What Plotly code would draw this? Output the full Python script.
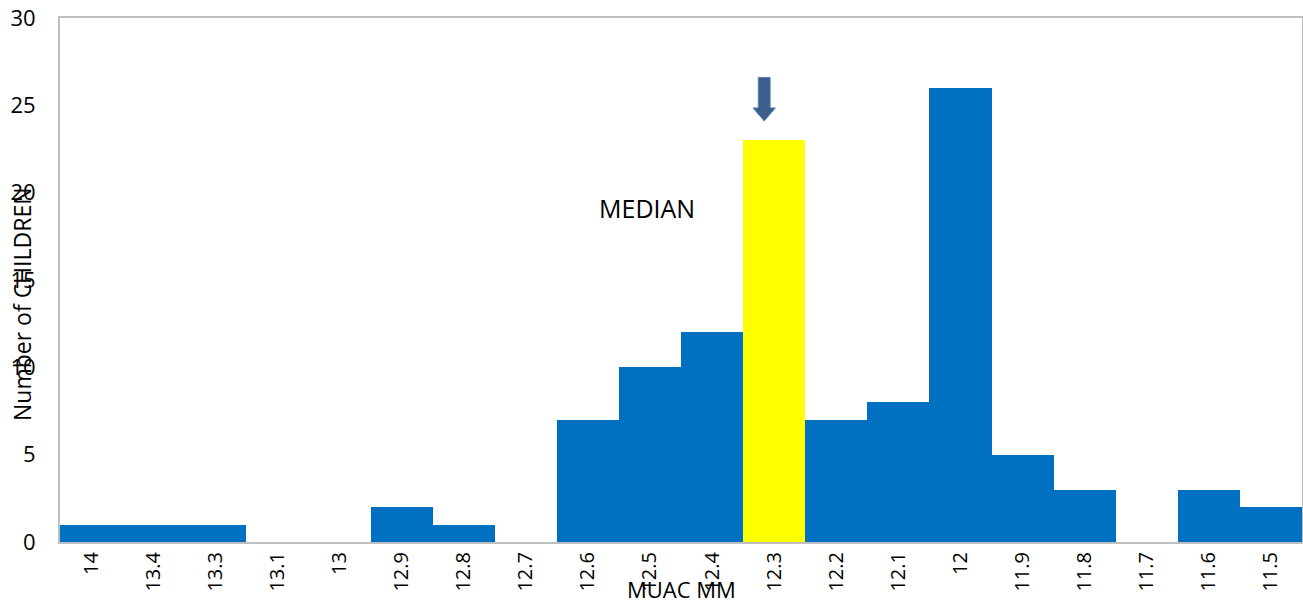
import plotly.graph_objects as go

# MUAC measurements (cm) and number of children in each class
muac = ["14", "13.4", "13.3", "13.1", "13", "12.9", "12.8", "12.7", "12.6", "12.5",
        "12.4", "12.3", "12.2", "12.1", "12", "11.9", "11.8", "11.7", "11.6", "11.5"]
children = [1, 1, 1, 0, 0, 2, 1, 0, 7, 10, 12, 23, 7, 8, 26, 5, 3, 0, 3, 2]
median_class = "12.3"

blue = "#0070C0"
yellow = "#FFFF00"
colors = [yellow if m == median_class else blue for m in muac]

fig = go.Figure(go.Bar(
    x=muac, y=children, marker=dict(color=colors, line=dict(width=0)),
))

mi = muac.index(median_class)
cx = mi - 0.16
# downward block arrow above the median bar
arrow = (f"M {cx-0.095},26.6 L {cx+0.095},26.6 L {cx+0.095},24.85 "
         f"L {cx+0.18},24.85 L {cx},24.1 L {cx-0.18},24.85 L {cx-0.095},24.85 Z")
fig.add_shape(type="path", path=arrow, xref="x", yref="y",
              fillcolor="#3B5E8C", line=dict(color="#5A7FB0", width=1))

fig.add_annotation(x=mi - 2.05, y=19.1, xref="x", yref="y", text="MEDIAN",
                   showarrow=False, font=dict(size=25, color="#000000"))

# axis titles sit close to the axes, over the tick labels
fig.add_annotation(x=0, y=0.5, xref="paper", yref="paper", xanchor="center",
                   yanchor="middle", xshift=-38, yshift=-25,
                   text="Number of CHILDREN", textangle=-90, showarrow=False,
                   font=dict(size=23, color="#000000"))
fig.add_annotation(x=0.5, y=0, xref="paper", yref="paper", xanchor="center",
                   yanchor="middle", yshift=-47,
                   text="MUAC MM", showarrow=False,
                   font=dict(size=22, color="#000000"))

font = "Open Sans, Liberation Sans, sans-serif"
fig.update_layout(
    width=1303, height=607,
    margin=dict(l=60, r=1, t=18, b=65),
    paper_bgcolor="white", plot_bgcolor="white",
    bargap=0, showlegend=False,
    font=dict(family=font, color="#000000", size=18),
    xaxis=dict(type="category", tickangle=-90, showline=True, linecolor="#BFBFBF",
               linewidth=2, mirror=True, ticks="", tickfont=dict(size=20),
               automargin=False),
    yaxis=dict(range=[0, 30], dtick=5, showgrid=False, zeroline=False, showline=True,
               linecolor="#BFBFBF", linewidth=2, mirror=True, ticks="",
               tickfont=dict(size=22), ticklabelstandoff=18, automargin=False),
)
fig.write_html("out.html")
